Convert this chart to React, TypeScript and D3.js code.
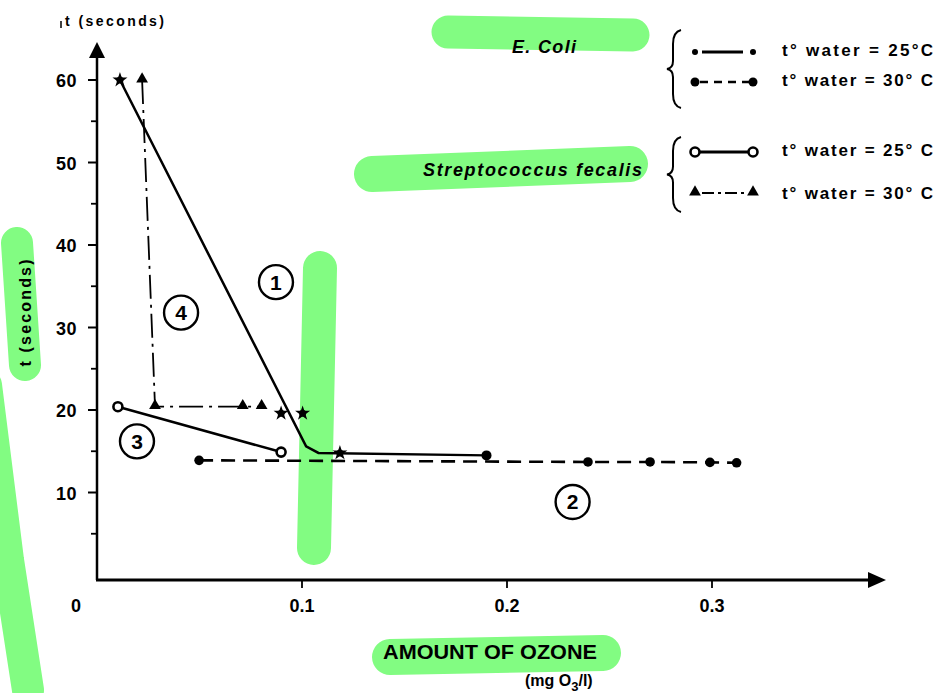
import { useEffect, useRef } from 'react';
import * as d3 from 'd3';

const W = 943;
const H = 693;

// ticks
const xTicks = [0.1, 0.2, 0.3];
const yTicks = [10, 20, 30, 40, 50, 60];
const yMinor = [5, 15, 25, 35, 45, 55];

// E. coli, t water 25 C  (solid line, asterisk points)
const coli25Line: [number, number][] = [[0.0112, 60], [0.102, 15.6], [0.108, 14.8], [0.19, 14.5]];
const coli25Stars: [number, number][] = [[0.0112, 60], [0.0898, 19.6], [0.1003, 19.6], [0.1185, 14.8]];
const coli25Dots: [number, number][] = [[0.19, 14.5]];

// E. coli, t water 30 C  (dashed line, dots)
const coli30: [number, number][] = [[0.0498, 13.9], [0.2395, 13.7], [0.2698, 13.7], [0.299, 13.65], [0.312, 13.6]];

// Streptococcus fecalis, 25 C (solid line, open circles)
const strep25: [number, number][] = [[0.0102, 20.4], [0.0898, 14.9]];

// Streptococcus fecalis, 30 C (dash-dot line, triangles)
const strep30: [number, number][] = [[0.022, 60], [0.0283, 20.4], [0.0711, 20.4], [0.0803, 20.4]];

// circled curve numbers
const curveLabels = [
  { n: '1', x: 0.0873, y: 35.5 },
  { n: '2', x: 0.232, y: 8.85 },
  { n: '3', x: 0.0195, y: 16.2 },
  { n: '4', x: 0.041, y: 31.8 },
];

const legendLabels = ['t° water = 25°C', 't° water = 30° C', 't° water = 25° C', 't° water = 30° C'];

const FONT = '"Liberation Sans", Arial, Helvetica, sans-serif';
const GREEN = '#82fc82';

const App = () => {
  const svgRef = useRef<SVGSVGElement>(null);

  useEffect(() => {
    const svg = d3.select(svgRef.current);
    svg.selectAll('*').remove();

    const x = d3.scaleLinear().domain([0, 0.3]).range([97, 712]);
    const y = d3.scaleLinear().domain([0, 60]).range([575, 80]);
    const axisY = 580;

    // highlighter marks
    const hl = svg.append('g').attr('fill', 'none').attr('stroke', GREEN).attr('stroke-linecap', 'round');
    const band = (pts: [number, number][], w: number) =>
      hl.append('path').attr('d', d3.line()(pts)).attr('stroke-width', w);
    band([[448, 32], [633, 35]], 33);
    band([[372, 174], [630, 164]], 36);
    band([[320, 268], [314, 548]], 34);
    band([[17, 243], [25, 365]], 32);
    band([[-14, 385], [8, 560], [28, 690]], 32);
    band([[390, 657], [603, 653]], 36);

    const g = svg.append('g').attr('font-family', FONT).attr('font-weight', 'bold').attr('fill', '#000');

    // axes
    g.append('line').attr('x1', x(0)).attr('x2', x(0)).attr('y1', axisY).attr('y2', 56)
      .attr('stroke', '#000').attr('stroke-width', 2.5);
    g.append('path').attr('d', `M${x(0)},42 L${x(0) - 8},58 L${x(0) + 8},58 Z`).attr('fill', '#000');
    g.append('line').attr('x1', x(0) - 1).attr('x2', 870).attr('y1', axisY).attr('y2', axisY)
      .attr('stroke', '#000').attr('stroke-width', 2.8);
    g.append('path').attr('d', `M886,${axisY} L868,${axisY - 8} L868,${axisY + 8} Z`).attr('fill', '#000');

    yTicks.forEach((t) => {
      g.append('line').attr('x1', x(0) - 9).attr('x2', x(0)).attr('y1', y(t)).attr('y2', y(t))
        .attr('stroke', '#000').attr('stroke-width', 2);
      g.append('text').attr('x', 77).attr('y', y(t) + 7).attr('text-anchor', 'end')
        .attr('font-size', 18).attr('letter-spacing', 0.5).text(t);
    });
    yMinor.forEach((t) => {
      g.append('line').attr('x1', x(0) - 6).attr('x2', x(0)).attr('y1', y(t)).attr('y2', y(t))
        .attr('stroke', '#000').attr('stroke-width', 1.8);
    });
    xTicks.forEach((t) => {
      g.append('line').attr('x1', x(t)).attr('x2', x(t)).attr('y1', axisY).attr('y2', axisY + 8)
        .attr('stroke', '#000').attr('stroke-width', 1.8);
      g.append('text').attr('x', x(t)).attr('y', 612).attr('text-anchor', 'middle')
        .attr('font-size', 18).text(d3.format('.1f')(t));
    });
    g.append('text').attr('x', 76).attr('y', 612).attr('text-anchor', 'middle').attr('font-size', 18).text('0');

    // axis titles
    g.append('line').attr('x1', 61).attr('x2', 61).attr('y1', 21).attr('y2', 28).attr('stroke', '#000').attr('stroke-width', 1.5);
    g.append('text').attr('x', 65).attr('y', 26).attr('font-size', 14).attr('textLength', 99).text('t (seconds)');
    g.append('text').attr('transform', 'translate(31,313) rotate(-90)').attr('text-anchor', 'middle')
      .attr('font-size', 16).attr('textLength', 107).text('t (seconds)');
    g.append('text').attr('x', 383).attr('y', 659).attr('font-size', 20)
      .attr('textLength', 214).attr('lengthAdjust', 'spacingAndGlyphs').text('AMOUNT OF OZONE');
    const unit = g.append('text').attr('x', 525).attr('y', 686).attr('font-size', 16);
    unit.append('tspan').text('(mg O');
    unit.append('tspan').attr('dy', 5).attr('font-size', 13).text('3');
    unit.append('tspan').attr('dy', -5).text('/l)');

    // curves
    const line = d3.line<[number, number]>().x((d) => x(d[0])).y((d) => y(d[1]));
    const curves = svg.append('g').attr('fill', 'none').attr('stroke', '#000');
    curves.append('path').attr('d', line(coli30)).attr('stroke-width', 2.6).attr('stroke-dasharray', '14 8');
    curves.append('path').attr('d', line(coli25Line)).attr('stroke-width', 2.5);
    curves.append('path').attr('d', line(strep25)).attr('stroke-width', 2.5);
    curves.append('path').attr('d', line(strep30)).attr('stroke-width', 1.8).attr('stroke-dasharray', '24 6 3 6');

    const marks = svg.append('g').attr('fill', '#000');
    const star = d3.symbol().type(d3.symbolStar).size(70);
    const tri = d3.symbol().type(d3.symbolTriangle).size(60);
    coli25Stars.forEach((d) => {
      marks.append('path').attr('d', star()).attr('transform', `translate(${x(d[0])},${y(d[1])})`);
      marks.append('circle').attr('cx', x(d[0])).attr('cy', y(d[1])).attr('r', 3.5);
    });
    coli25Dots.forEach((d) => marks.append('circle').attr('cx', x(d[0])).attr('cy', y(d[1])).attr('r', 5));
    coli30.forEach((d) => marks.append('circle').attr('cx', x(d[0])).attr('cy', y(d[1])).attr('r', 4.8));
    strep25.forEach((d) => marks.append('circle').attr('cx', x(d[0])).attr('cy', y(d[1])).attr('r', 4.5)
      .attr('fill', '#fff').attr('stroke', '#000').attr('stroke-width', 2.6));
    strep30.forEach((d) => marks.append('path').attr('d', tri()).attr('transform', `translate(${x(d[0])},${y(d[1]) - 1})`));

    // circled numbers
    curveLabels.forEach((c) => {
      g.append('circle').attr('cx', x(c.x)).attr('cy', y(c.y)).attr('r', 17)
        .attr('fill', 'none').attr('stroke', '#000').attr('stroke-width', 2.4);
      g.append('text').attr('x', x(c.x)).attr('y', y(c.y) + 7.5).attr('text-anchor', 'middle')
        .attr('font-size', 21).text(c.n);
    });

    // species names
    g.append('text').attr('x', 512).attr('y', 53).attr('font-size', 18).attr('font-style', 'italic')
      .attr('textLength', 64).text('E. Coli');
    g.append('text').attr('x', 423).attr('y', 176).attr('font-size', 18).attr('font-style', 'italic')
      .attr('textLength', 219).text('Streptococcus fecalis');

    // legend braces
    const brace = (top: number, bot: number) => {
      const m = (top + bot) / 2;
      g.append('path').attr('fill', 'none').attr('stroke', '#000').attr('stroke-width', 2)
        .attr('d', `M681,${top} Q673,${top + 2} 673,${top + 14} L673,${m - 8} Q673,${m - 1} 667,${m} Q673,${m + 1} 673,${m + 8} L673,${bot - 14} Q673,${bot - 2} 681,${bot}`);
    };
    brace(30, 108);
    brace(137, 212);

    const rowsY = [52, 82, 152, 193];
    const lg = svg.append('g').attr('stroke', '#000').attr('fill', '#000');
    // 1: E. coli 25
    lg.append('line').attr('x1', 702).attr('x2', 743).attr('y1', rowsY[0]).attr('y2', rowsY[0]).attr('stroke-width', 3);
    [695, 753].forEach((px) => lg.append('circle').attr('cx', px).attr('cy', rowsY[0]).attr('r', 3).attr('stroke', 'none'));
    // 2: E. coli 30
    lg.append('line').attr('x1', 700).attr('x2', 750).attr('y1', rowsY[1]).attr('y2', rowsY[1]).attr('stroke-width', 2.4)
      .attr('stroke-dasharray', '8 6');
    [695, 753].forEach((px) => lg.append('circle').attr('cx', px).attr('cy', rowsY[1]).attr('r', 4.5).attr('stroke', 'none'));
    // 3: strep 25
    lg.append('line').attr('x1', 700).attr('x2', 748).attr('y1', rowsY[2]).attr('y2', rowsY[2]).attr('stroke-width', 3);
    [695, 753].forEach((px) => lg.append('circle').attr('cx', px).attr('cy', rowsY[2]).attr('r', 4.5)
      .attr('fill', '#fff').attr('stroke-width', 2.6));
    // 4: strep 30
    lg.append('line').attr('x1', 702).attr('x2', 747).attr('y1', rowsY[3]).attr('y2', rowsY[3]).attr('stroke-width', 2.2)
      .attr('stroke-dasharray', '12 4 3 4');
    [695, 753].forEach((px) => lg.append('path').attr('d', tri()).attr('stroke', 'none')
      .attr('transform', `translate(${px},${rowsY[3] - 1})`));

    legendLabels.forEach((s, i) => {
      g.append('text').attr('x', 782).attr('y', rowsY[i] + 4 + (i === 3 ? 2 : 0)).attr('font-size', 17)
        .attr('textLength', 151).text(s);
    });
  }, []);

  return <svg ref={svgRef} width={W} height={H} style={{ position: 'absolute', left: 0, top: 0, background: '#fff' }} />;
};

export default App;
